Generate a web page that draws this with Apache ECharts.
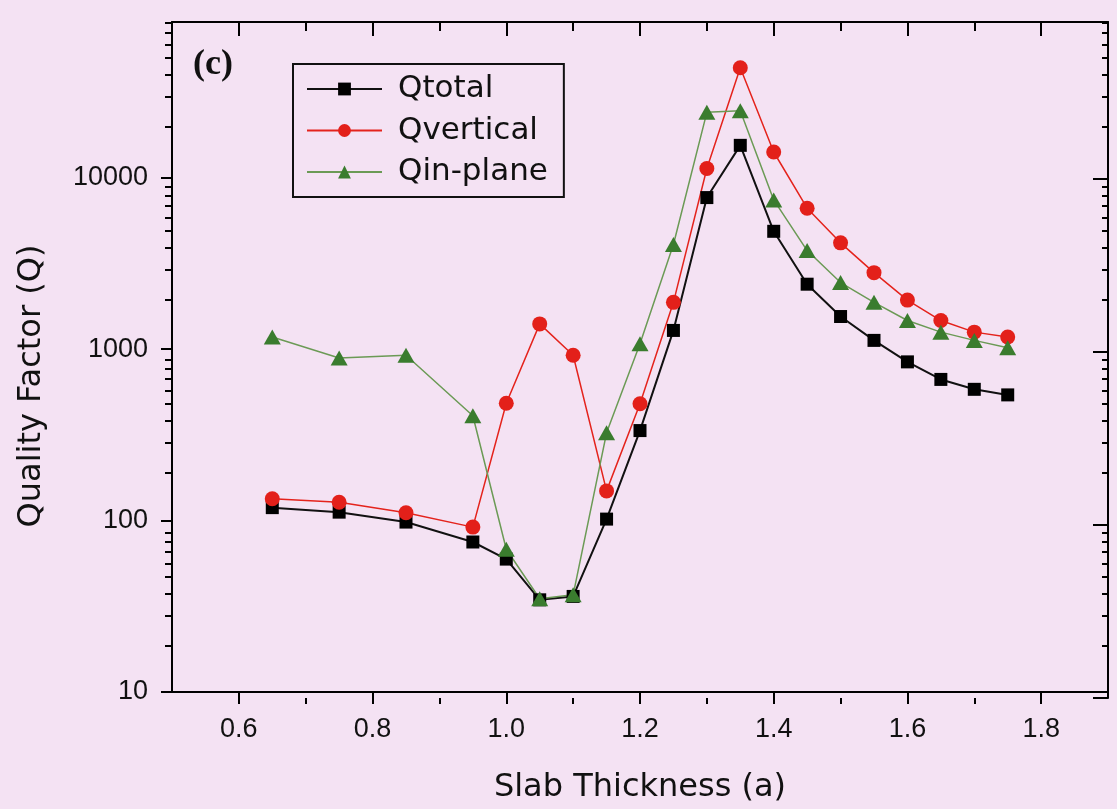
<!DOCTYPE html>
<html>
<head>
<meta charset="utf-8">
<script src="https://cdn.jsdelivr.net/npm/echarts@6/dist/echarts.min.js"></script>
<style>
html,body{margin:0;padding:0;background:#f4e2f3;}
#chart{width:1117px;height:809px;}
</style>
</head>
<body>
<div id="chart"></div>
<script>
// ---- data ----
const slabThickness = [0.65,0.75,0.85,0.95,1.0,1.05,1.1,1.15,1.2,1.25,1.3,1.35,1.4,1.45,1.5,1.55,1.6,1.65,1.7,1.75];
const qTotal    = [119,112,98,75,59.6,34.5,36.1,102,335,1286,7660,15450,4870,2393,1550,1125,843,666,583,541];
const qVertical = [134,128,111,91.6,484,1404,922,149,480,1875,11320,43850,14130,6640,4170,2795,1933,1469,1257,1177];
const qInPlane  = [1177,889,922,409,68,35,36.9,325,1076,4077,24080,24600,7420,3760,2447,1875,1469,1257,1125,1020];
const seriesNames = ['Qtotal','Qvertical','Qin-plane'];
const xMajorTicks = [0.6,0.8,1.0,1.2,1.4,1.6,1.8];
const xMinorTicks = [0.7,0.9,1.1,1.3,1.5,1.7];
const yMajorTicks = [10,100,1000,10000];
const yMinorTicks = [20,30,40,50,60,70,80,90,200,300,400,500,600,700,800,900,2000,3000,4000,5000,6000,7000,8000,9000,20000,30000,40000,50000,60000,70000,80000];
const xMin = 0.5, xMax = 1.9, yMin = 10, yMax = 81000;

const pair = arr => slabThickness.map((x,i)=>[x, arr[i]]);
const chart = echarts.init(document.getElementById('chart'));

function xAx(g, pos, ticks, len, inside, showLine, showLabel){
  const tick = {show:true, customValues:ticks, length:len, lineStyle:{color:'#000', width:2}};
  if (inside) tick.inside = true;
  return {
    type:'value', min:xMin, max:xMax, position:pos, gridIndex:g,
    axisLine: showLine ? {onZero:false, lineStyle:{color:'#000', width:2}} : {show:false},
    axisTick:tick,
    axisLabel: showLabel ? {customValues:ticks, margin:24, fontSize:27, fontFamily:'Liberation Sans', color:'#111', formatter:v=>Number(v).toFixed(1)} : {show:false},
    splitLine:{show:false}
  };
}
function yAx(g, pos, ticks, len, inside, showLine, showLabel){
  const tick = {show:true, customValues:ticks, length:len, lineStyle:{color:'#000', width:2}};
  if (inside) tick.inside = true;
  return {
    type:'log', logBase:10, min:yMin, max:yMax, position:pos, gridIndex:g,
    axisLine: showLine ? {onZero:false, lineStyle:{color:'#000', width:2}} : {show:false},
    axisTick:tick,
    axisLabel: showLabel ? {customValues:ticks, margin:24, fontSize:27, fontFamily:'Liberation Sans', color:'#111', formatter:v=>String(Math.round(v))} : {show:false},
    splitLine:{show:false}
  };
}

const g = {left:172, right:9, top:22, bottom:111};

const xAxes = [
  xAx(0, 'bottom', xMajorTicks, 12, false, true, true),
  xAx(1, 'bottom', xMinorTicks, 6, false, false, false),
  xAx(2, 'top', xMajorTicks, 14, true, true, false),
  xAx(3, 'top', xMinorTicks, 9, true, false, false)
];
xAxes[0].name = 'Slab Thickness (a)';
xAxes[0].nameLocation = 'middle';
xAxes[0].nameGap = 80;
xAxes[0].nameTextStyle = {fontFamily:'DejaVu Sans', fontSize:32, color:'#111'};

const yAxes = [
  yAx(0, 'left', yMajorTicks, 11, false, true, true),
  yAx(1, 'left', yMinorTicks, 7, false, false, false),
  yAx(2, 'right', yMajorTicks, 15, true, true, false),
  yAx(3, 'right', yMinorTicks, 6, true, false, false)
];
yAxes[0].name = 'Quality Factor (Q)';
yAxes[0].nameLocation = 'middle';
yAxes[0].nameGap = 124;
yAxes[0].nameTextStyle = {fontFamily:'DejaVu Sans', fontSize:32, color:'#111', padding:[0,58,0,0]};

const option = {
  animation:false,
  title:{text:'(c)', left:193, top:47, padding:0, textStyle:{fontFamily:'Liberation Serif', fontWeight:'bold', fontSize:36, color:'#111'}},
  grid:[g, g, g, g],
  xAxis:xAxes,
  yAxis:yAxes,
  legend:{
    orient:'vertical', left:293, top:64,
    padding:[9,16,9,13], borderColor:'#111', borderWidth:2,
    itemWidth:75, itemHeight:16, itemGap:9.5,
    textStyle:{fontFamily:'DejaVu Sans', fontSize:31, color:'#111', lineHeight:32, padding:[0,0,0,11]},
    data:seriesNames
  },
  series:[
    {name:seriesNames[0], type:'line', xAxisIndex:0, yAxisIndex:0, data:pair(qTotal),
     symbol:'rect', symbolSize:13, lineStyle:{color:'#111', width:2}, itemStyle:{color:'#000'}},
    {name:seriesNames[1], type:'line', xAxisIndex:0, yAxisIndex:0, data:pair(qVertical),
     symbol:'circle', symbolSize:15, lineStyle:{color:'#e4231c', width:1.5}, itemStyle:{color:'#e3201a'}},
    {name:seriesNames[2], type:'line', xAxisIndex:0, yAxisIndex:0, data:pair(qInPlane),
     symbol:'triangle', symbolSize:[17,15], lineStyle:{color:'#6b9a55', width:1.5}, itemStyle:{color:'#3a7c2e'}}
  ]
};
chart.setOption(option);
</script>
</body>
</html>
